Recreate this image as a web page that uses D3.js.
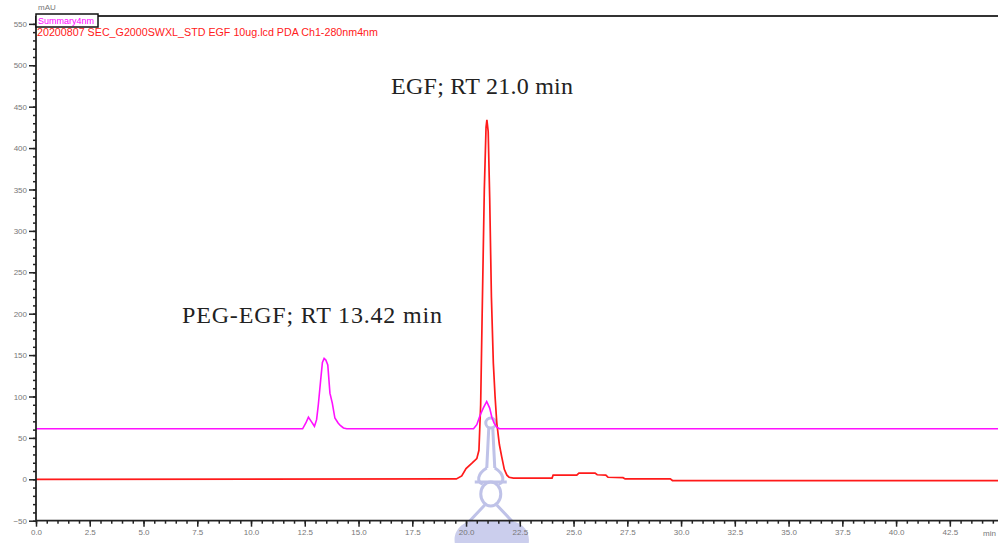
<!DOCTYPE html>
<html>
<head>
<meta charset="utf-8">
<script src="https://cdn.jsdelivr.net/npm/d3@7"></script>
<style>
  body { margin: 0; background: #fff; }
  svg { display: block; }
</style>
</head>
<body>
<div id="chart"></div>
<script>
// chromatogram traces (time in min, absorbance in mAU)
const pegTime = [0, 12.4, 12.55, 12.67, 12.8, 12.95, 13.05, 13.13, 13.24, 13.32, 13.4, 13.48, 13.57, 13.67, 13.78, 13.9, 14.05, 14.15, 14.3, 14.45,
  20.35, 20.5, 20.65, 20.8, 20.96, 21.1, 21.2, 21.3, 21.43, 21.55, 44.8];
const pegAbs = [61, 61, 68, 75, 70, 64, 72, 90, 120, 141, 146, 144, 138, 104, 92, 74, 68, 65, 62, 61,
  61, 66, 77, 86, 94, 86, 75, 68, 63, 61, 61];

const egfTime = [0, 19.55, 19.8, 20.0, 20.3, 20.5, 20.6, 20.68, 20.75, 20.85, 20.93, 20.97, 21.03, 21.1, 21.18, 21.27, 21.35, 21.43, 21.55, 21.66, 21.78, 21.9, 22.0, 22.2,
  24.0, 24.05, 25.15, 25.25, 26.0, 26.1, 26.5, 26.6, 27.3, 27.4, 29.5, 29.6, 44.8];
const egfAbs = [0, 0.5, 4, 13, 20, 25, 35, 90, 200, 350, 425, 434, 420, 340, 220, 140, 100, 68, 42, 27, 12, 5, 2.5, 1.5,
  1.5, 5, 5, 7.5, 7.5, 5.5, 5, 2.5, 2, 0.5, 0.5, -1.5, -1.5];

const xTicks = d3.range(0, 43, 2.5);
const yTicks = d3.range(-50, 551, 50);

const legendTop = "Summary4nm";
const legendRed = "20200807 SEC_G2000SWXL_STD EGF 10ug.lcd PDA Ch1-280nm4nm";
const labelEGF = "EGF; RT 21.0 min";
const labelPEG = "PEG-EGF; RT 13.42 min";

const width = 998, height = 543;
const margin = { top: 16, left: 36, bottom: 22 };

const svg = d3.select('#chart').append('svg')
  .attr('width', width)
  .attr('height', height);

const x = d3.scaleLinear().domain([0, 44.74]).range([margin.left, width]);
const y = d3.scaleLinear().domain([-50, 559.5]).range([520.7, 16]);

// watermark (light lavender figure behind the axis near 21 min)
const wm = svg.append('g')
  .attr('transform', `translate(${x(21.15)}, 0)`)
  .attr('fill', 'none')
  .attr('stroke', '#b4b8e4')
  .attr('stroke-width', 3)
  .attr('opacity', 0.85);
wm.append('path').attr('fill', '#c3c6ea').attr('stroke', 'none')
  .attr('d', 'M-36,543 C-38,528 -25,519 -10,520 L10,520 C25,519 40,526 38,543 Z');
wm.append('circle').attr('cx', 0).attr('cy', 423).attr('r', 5);
wm.append('path').attr('d', 'M-2,428 L-4,468 M2,428 L4,468');
wm.append('path').attr('d', 'M-4,468 C-14,474 -14,482 -8,484 M4,468 C14,474 14,482 8,484');
wm.append('ellipse').attr('cx', 0).attr('cy', 494).attr('rx', 10).attr('ry', 12);
wm.append('path').attr('d', 'M-6,505 L-22,522 M6,505 L22,522 M-16,482 L16,482');

// traces
const line = d3.line().x(d => x(d[0])).y(d => y(d[1]));

svg.append('path')
  .datum(d3.zip(egfTime, egfAbs))
  .attr('fill', 'none')
  .attr('stroke', '#ff1a1a')
  .attr('stroke-width', 1.7)
  .attr('d', line);

svg.append('path')
  .datum(d3.zip(pegTime, pegAbs))
  .attr('fill', 'none')
  .attr('stroke', '#ff10ff')
  .attr('stroke-width', 1.6)
  .attr('d', line);

// axes
const axisColor = '#222';
const labelColor = '#777';

function yAxis(g) {
  g.attr('transform', `translate(${margin.left},0)`)
    .call(d3.axisLeft(y).tickValues(d3.range(-50, 556, 10)).tickSize(3).tickFormat(''))
    .call(g => g.selectAll('.tick line').attr('stroke', axisColor).attr('stroke-width', 1.5));
  g.select('.domain').remove();
  g.append('g')
    .call(d3.axisLeft(y).tickValues(yTicks).tickSize(7).tickFormat(d3.format('d')))
    .call(g => g.select('.domain').remove())
    .call(g => g.selectAll('.tick line').attr('stroke', axisColor).attr('stroke-width', 1.5))
    .call(g => g.selectAll('.tick text').attr('fill', labelColor).attr('font-size', 8)
      .attr('font-family', 'Liberation Sans, Arial, sans-serif').attr('x', -9));
}

function xAxis(g) {
  g.attr('transform', `translate(0,${y(-50)})`)
    .call(d3.axisBottom(x).tickValues(d3.range(0, 44.6, 0.5)).tickSize(3).tickFormat(''))
    .call(g => g.selectAll('.tick line').attr('stroke', axisColor).attr('stroke-width', 1.5));
  g.select('.domain').remove();
  g.append('g')
    .call(d3.axisBottom(x).tickValues(xTicks).tickSize(6).tickFormat(d3.format('.1f')))
    .call(g => g.select('.domain').remove())
    .call(g => g.selectAll('.tick line').attr('stroke', axisColor).attr('stroke-width', 1.5))
    .call(g => g.selectAll('.tick text').attr('fill', labelColor).attr('font-size', 8)
      .attr('font-family', 'Liberation Sans, Arial, sans-serif').attr('y', 9));
}

svg.append('g').call(yAxis);
svg.append('g').call(xAxis);

// frame lines: left axis, bottom axis, top border
svg.append('line').attr('x1', margin.left).attr('x2', margin.left).attr('y1', 16).attr('y2', y(-50))
  .attr('stroke', axisColor).attr('stroke-width', 1.8);
svg.append('line').attr('x1', margin.left).attr('x2', width).attr('y1', y(-50)).attr('y2', y(-50))
  .attr('stroke', axisColor).attr('stroke-width', 1.8);
svg.append('line').attr('x1', margin.left).attr('x2', width).attr('y1', 16).attr('y2', 16)
  .attr('stroke', '#333').attr('stroke-width', 2);

// axis units
svg.append('text').attr('x', 38).attr('y', 10).text('mAU')
  .attr('font-size', 8).attr('fill', labelColor).attr('font-family', 'Liberation Sans, Arial, sans-serif');
svg.append('text').attr('x', 983).attr('y', 536).text('min')
  .attr('font-size', 8).attr('fill', labelColor).attr('font-family', 'Liberation Sans, Arial, sans-serif');

// legend
svg.append('rect').attr('x', 36).attr('y', 14).attr('width', 62).attr('height', 13)
  .attr('fill', '#fff').attr('stroke', '#111').attr('stroke-width', 1.5);
svg.append('text').attr('x', 38).attr('y', 24).text(legendTop)
  .attr('font-size', 9).attr('fill', '#ff00ff').attr('font-family', 'Liberation Sans, Arial, sans-serif')
  .attr('textLength', 56).attr('lengthAdjust', 'spacingAndGlyphs');
svg.append('text').attr('x', 37).attr('y', 36).text(legendRed)
  .attr('font-size', 10).attr('fill', '#ff2020').attr('font-family', 'Liberation Sans, Arial, sans-serif')
  .attr('textLength', 341).attr('lengthAdjust', 'spacingAndGlyphs');

// peak annotations
svg.append('text').attr('x', 391).attr('y', 94).text(labelEGF)
  .attr('font-size', 24).attr('fill', '#222').attr('font-family', 'Liberation Serif, Times New Roman, serif')
  .attr('textLength', 182).attr('lengthAdjust', 'spacing');
svg.append('text').attr('x', 182).attr('y', 323).text(labelPEG)
  .attr('font-size', 24).attr('fill', '#222').attr('font-family', 'Liberation Serif, Times New Roman, serif')
  .attr('textLength', 260).attr('lengthAdjust', 'spacing');
</script>
</body>
</html>
